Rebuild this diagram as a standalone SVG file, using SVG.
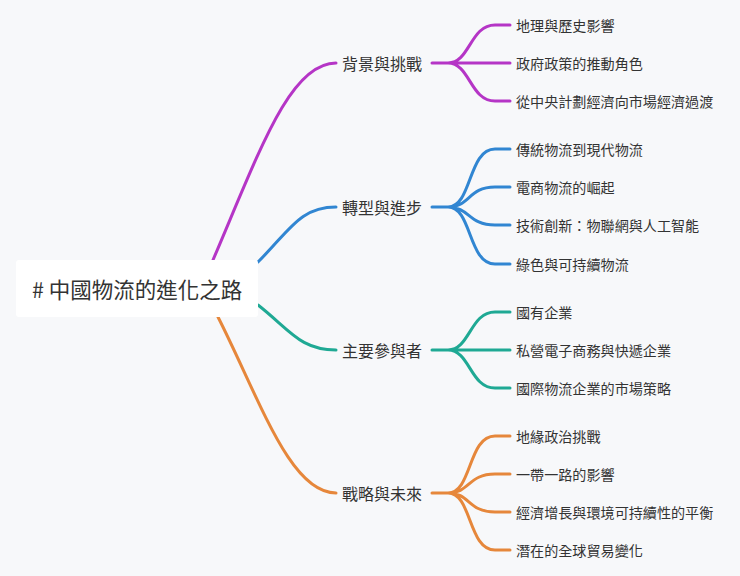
<svg xmlns="http://www.w3.org/2000/svg" width="740" height="576" viewBox="0 0 740 576">
<style>
text{font-family:"Noto Sans CJK TC","Noto Sans CJK SC",sans-serif;fill:#333;dominant-baseline:central}
.b{font-size:16px}.c{font-size:14.1px}
path{fill:none;stroke-width:3;stroke-linecap:round}
.p{stroke:#b535c6}.u{stroke:#3186d2}.g{stroke:#1fa994}.o{stroke:#e6873b}
</style>
<rect width="740" height="576" fill="#f7f8fa"/>
<g id="connectors">
<path class="p" d="M213 260 C260 150 290 63 336 63"/>
<path class="u" d="M258 262 C290 230 300 207 336 207"/>
<path class="g" d="M258 305 C290 330 300 350 336 350"/>
<path class="o" d="M218 317 C260 400 290 493 336 493"/>
<path class="p" d="M432 63 H448 C470 63 470 25 495 25 H510 M448 63 H510 M448 63 C470 63 470 101 495 101 H510"/>
<path class="u" d="M432 207 H448 C472 207 468 149 495 149 H510 M448 207 C470 207 468 187 495 187 H510 M448 207 C470 207 468 225 495 225 H510 M448 207 C472 207 468 264 495 264 H510"/>
<path class="g" d="M432 350 H448 C470 350 470 312 495 312 H510 M448 350 H510 M448 350 C470 350 470 388 495 388 H510"/>
<path class="o" d="M432 493 H448 C472 493 468 436 495 436 H510 M448 493 C470 493 468 474 495 474 H510 M448 493 C470 493 468 512 495 512 H510 M448 493 C472 493 468 550 495 550 H510"/>
</g>
<g id="root"><rect x="16" y="260" width="242" height="57" rx="3" fill="#fff"/><text x="32" y="288" font-size="21.5">#  中國物流的進化之路</text></g>
<g id="b1"><text class="b" x="342" y="63">背景與挑戰</text></g>
<g id="b2"><text class="b" x="342" y="207">轉型與進步</text></g>
<g id="b3"><text class="b" x="342" y="350">主要參與者</text></g>
<g id="b4"><text class="b" x="342" y="493">戰略與未來</text></g>
<g id="c1"><text class="c" x="516" y="25">地理與歷史影響</text></g>
<g id="c2"><text class="c" x="516" y="63">政府政策的推動角色</text></g>
<g id="c3"><text class="c" x="516" y="101">從中央計劃經濟向市場經濟過渡</text></g>
<g id="c4"><text class="c" x="516" y="149">傳統物流到現代物流</text></g>
<g id="c5"><text class="c" x="516" y="187">電商物流的崛起</text></g>
<g id="c6"><text class="c" x="516" y="225">技術創新：物聯網與人工智能</text></g>
<g id="c7"><text class="c" x="516" y="264">綠色與可持續物流</text></g>
<g id="c8"><text class="c" x="516" y="312">國有企業</text></g>
<g id="c9"><text class="c" x="516" y="350">私營電子商務與快遞企業</text></g>
<g id="c10"><text class="c" x="516" y="388">國際物流企業的市場策略</text></g>
<g id="c11"><text class="c" x="516" y="436">地緣政治挑戰</text></g>
<g id="c12"><text class="c" x="516" y="474">一帶一路的影響</text></g>
<g id="c13"><text class="c" x="516" y="512">經濟增長與環境可持續性的平衡</text></g>
<g id="c14"><text class="c" x="516" y="550">潛在的全球貿易變化</text></g>
</svg>
